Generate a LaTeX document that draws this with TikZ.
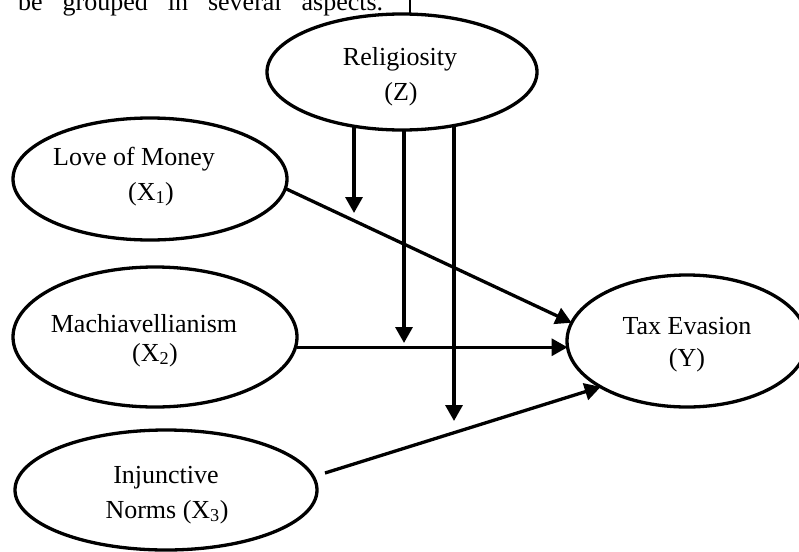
\documentclass[tikz,border=0pt]{standalone}
\usepackage{fontspec}
\setmainfont{Liberation Serif}
\usetikzlibrary{arrows.meta,shapes.geometric,backgrounds}
\tikzset{
  ell/.style={draw, ellipse, line width=3.3pt, fill=white, inner sep=0pt, outer sep=0pt},
  lbl/.style={anchor=base, inner sep=0pt, font=\fontsize{26}{32}\selectfont},
  arr/.style={line width=3.3pt, -{Triangle[length=16pt,width=17pt]}},
  rule/.style={line width=2pt}
}
\begin{document}
\begin{tikzpicture}[x=1pt,y=-1pt]
\useasboundingbox (0,0) rectangle (799,551);
\clip (0,0) rectangle (799,551);
% top text fragment
\node[anchor=base west, inner sep=0pt, font=\fontsize{26}{32}\selectfont] (toptext) at (18,11) {\makebox[365pt][s]{be grouped in several aspects.}};
% ellipses
\node[ell, minimum width=270pt, minimum height=116pt] (Z) at (402,72) {};
\node[ell, minimum width=274pt, minimum height=122pt] (L) at (150,179) {};
\node[ell, minimum width=284pt, minimum height=140pt] (M) at (155,337) {};
\node[ell, minimum width=302pt, minimum height=120pt] (I) at (166,490) {};
\node[ell, minimum width=240pt, minimum height=132pt] (Y) at (687,341) {};
% labels
\node[lbl] (zt1) at (400,65) {Religiosity};
\node[lbl] (zt2) at (401,100) {(Z)};
\node[lbl] (lt1) at (134,165) {Love of Money};
\node[lbl] (lt2) at (151,200) {(X\textsubscript{1})};
\node[lbl] (mt1) at (144,332) {Machiavellianism};
\node[lbl] (mt2) at (155,361) {(X\textsubscript{2})};
\node[lbl] (it1) at (166,483) {Injunctive};
\node[lbl] (it2) at (167,518) {Norms (X\textsubscript{3})};
\node[lbl] (yt1) at (687,334) {Tax Evasion};
\node[lbl] (yt2) at (687,366) {(Y)};
% coordinates
\coordinate (m1) at (354,213);
\coordinate (m2) at (404,343);
\coordinate (m3) at (454,421);
\coordinate (s3) at (325,473);
\coordinate (t0) at (410,0);
\begin{pgfonlayer}{background}
\draw[rule] (t0) -- (t0 |- Z.center);
\draw[arr] (Z.center -| m1) -- (m1);
\draw[arr] (Z.center -| m2) -- (m2);
\draw[arr] (Z.center -| m3) -- (m3);
\draw[arr] (L.-4) -- (Y.171);
\draw[arr] (M.east |- Y.183) -- (Y.183);
\draw[arr] (s3) -- (Y.208);
\end{pgfonlayer}
\end{tikzpicture}
\end{document}
